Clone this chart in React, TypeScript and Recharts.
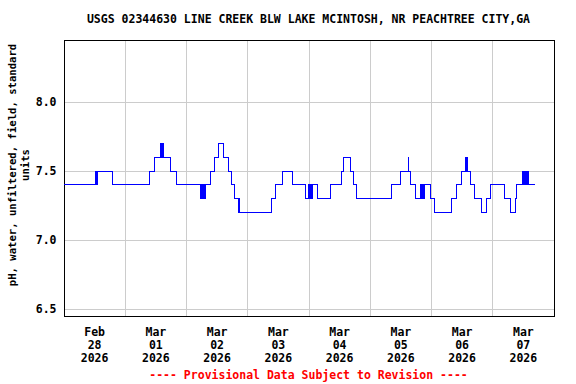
import { LineChart, Line, XAxis, YAxis, CartesianGrid, ReferenceArea } from "recharts";

const title = "USGS 02344630 LINE CREEK BLW LAKE MCINTOSH, NR PEACHTREE CITY,GA";
const yLabelLines = ["pH, water, unfiltered, field, standard", "units"];
const footnote = "---- Provisional Data Subject to Revision ----";

// hours after Feb 28 2026 00:00; each value holds until the next reading
const hours = [
  0, 12.4, 12.7, 13.0, 19.0, 33.6, 35.5, 38.0, 38.3, 38.5, 38.8, 41.9, 43.9,
  53.6, 53.9, 54.1, 54.4, 54.6, 54.9, 55.1, 55.3, 57.5, 59.1, 60.4, 62.6, 64.5, 65.7, 67.0,
  68.3, 68.5, 68.7, 81.4, 83.0, 85.6, 89.5, 94.6, 95.8, 96.1, 96.3, 96.6, 96.8, 97.1, 97.3,
  99.5, 104.5, 108.7, 109.4, 112.2, 113.4, 114.7, 128.5, 132.0, 134.8, 135.1, 135.8, 137.6,
  139.8, 140.0, 140.3, 140.5, 140.8, 141.0, 141.2, 143.5, 145.2, 152.0, 153.7, 155.6,
  157.5, 157.7, 157.9, 158.1, 159.2, 160.7, 163.5, 165.4, 167.0, 172.5, 175.1, 176.8,
  177.5, 179.8, 180.0, 180.4, 180.6, 180.8, 181.0, 181.3, 181.5, 181.8, 182.0, 184.5,
];
const phValues = [
  7.4, 7.5, 7.4, 7.5, 7.4, 7.5, 7.6, 7.7, 7.6, 7.7, 7.6, 7.5, 7.4,
  7.3, 7.4, 7.3, 7.4, 7.3, 7.4, 7.3, 7.4, 7.5, 7.6, 7.7, 7.6, 7.5, 7.4, 7.3,
  7.2, 7.3, 7.2, 7.3, 7.4, 7.5, 7.4, 7.3, 7.4, 7.3, 7.4, 7.3, 7.4, 7.3, 7.4,
  7.3, 7.4, 7.5, 7.6, 7.5, 7.4, 7.3, 7.4, 7.5, 7.6, 7.5, 7.4, 7.3,
  7.4, 7.3, 7.4, 7.3, 7.4, 7.3, 7.4, 7.3, 7.2, 7.3, 7.4, 7.5,
  7.6, 7.5, 7.6, 7.5, 7.4, 7.3, 7.2, 7.3, 7.4, 7.3, 7.2, 7.3,
  7.4, 7.5, 7.4, 7.5, 7.4, 7.5, 7.4, 7.5, 7.4, 7.5, 7.4, 7.4,
];

const dayTicks = [0, 24, 48, 72, 96, 120, 144, 168];
const tickMonths = ["Feb", "Mar", "Mar", "Mar", "Mar", "Mar", "Mar", "Mar"];
const tickDays = ["28", "01", "02", "03", "04", "05", "06", "07"];
const tickYears = ["2026", "2026", "2026", "2026", "2026", "2026", "2026", "2026"];
const phTicks = [6.5, 7.0, 7.5, 8.0];

const data = hours.map((t, i) => ({ t, ph: phValues[i] }));

const W = 576;
const H = 384;
const margin = { top: 40, right: 22, bottom: 0, left: 0 };
const yAxisWidth = 64;
const halfDay = (W - yAxisWidth - margin.right) / 16;
const font = "'DejaVu Sans Mono', monospace";

const DateTick = ({ x, y, payload }: any) => {
  const i = dayTicks.indexOf(payload.value);
  if (i < 0) return null;
  const cx = x + halfDay;
  return (
    <g fontFamily={font} fontSize={11.5} fontWeight="bold" fill="#000" textAnchor="middle">
      <text x={cx} y={y + 18}>{tickMonths[i]}</text>
      <text x={cx} y={y + 31}>{tickDays[i]}</text>
      <text x={cx} y={y + 44}>{tickYears[i]}</text>
    </g>
  );
};

export default function App() {
  return (
    <div style={{ position: "absolute", left: 0, top: 0, width: W, height: H, background: "#fff" }}>
      <style>{`.crisp path, .crisp line, .crisp rect { shape-rendering: crispEdges; }`}</style>
      <div className="crisp">
        <LineChart width={W} height={H} data={data} margin={margin}>
          <CartesianGrid stroke="#cccccc" strokeWidth={1} />
          <XAxis
            dataKey="t"
            type="number"
            domain={[0, 192]}
            ticks={dayTicks}
            interval={0}
            tick={<DateTick />}
            tickLine={false}
            axisLine={false}
            tickSize={0}
            height={68}
          />
          <YAxis
            type="number"
            domain={[6.45, 8.45]}
            ticks={phTicks}
            tickFormatter={(v: number) => v.toFixed(1)}
            tick={{ fontFamily: font, fontSize: 11.5, fontWeight: "bold", fill: "#000" }}
            tickLine={false}
            axisLine={false}
            tickSize={0}
            tickMargin={7.5}
            width={yAxisWidth}
            allowDataOverflow
          />
          <ReferenceArea x1={0} x2={192} y1={6.45} y2={8.45} fill="none" fillOpacity={0} stroke="#000" strokeWidth={1} />
          <Line
            dataKey="ph"
            type="stepAfter"
            stroke="#0000ff"
            strokeWidth={1}
            dot={false}
            isAnimationActive={false}
          />
        </LineChart>
      </div>
      <svg width={W} height={H} style={{ position: "absolute", left: 0, top: 0, pointerEvents: "none" }}>
        <g fontFamily={font} fontWeight="bold">
          <text x={308.5} y={23} fontSize={11.5} textAnchor="middle" fill="#000">{title}</text>
          <text transform="translate(16,165) rotate(-90)" fontSize={10.6} textAnchor="middle" fill="#000">{yLabelLines[0]}</text>
          <text transform="translate(28.5,165) rotate(-90)" fontSize={10.6} textAnchor="middle" fill="#000">{yLabelLines[1]}</text>
          <text x={308.5} y={379} fontSize={11.5} textAnchor="middle" fill="#ff0000">{footnote}</text>
        </g>
      </svg>
    </div>
  );
}
